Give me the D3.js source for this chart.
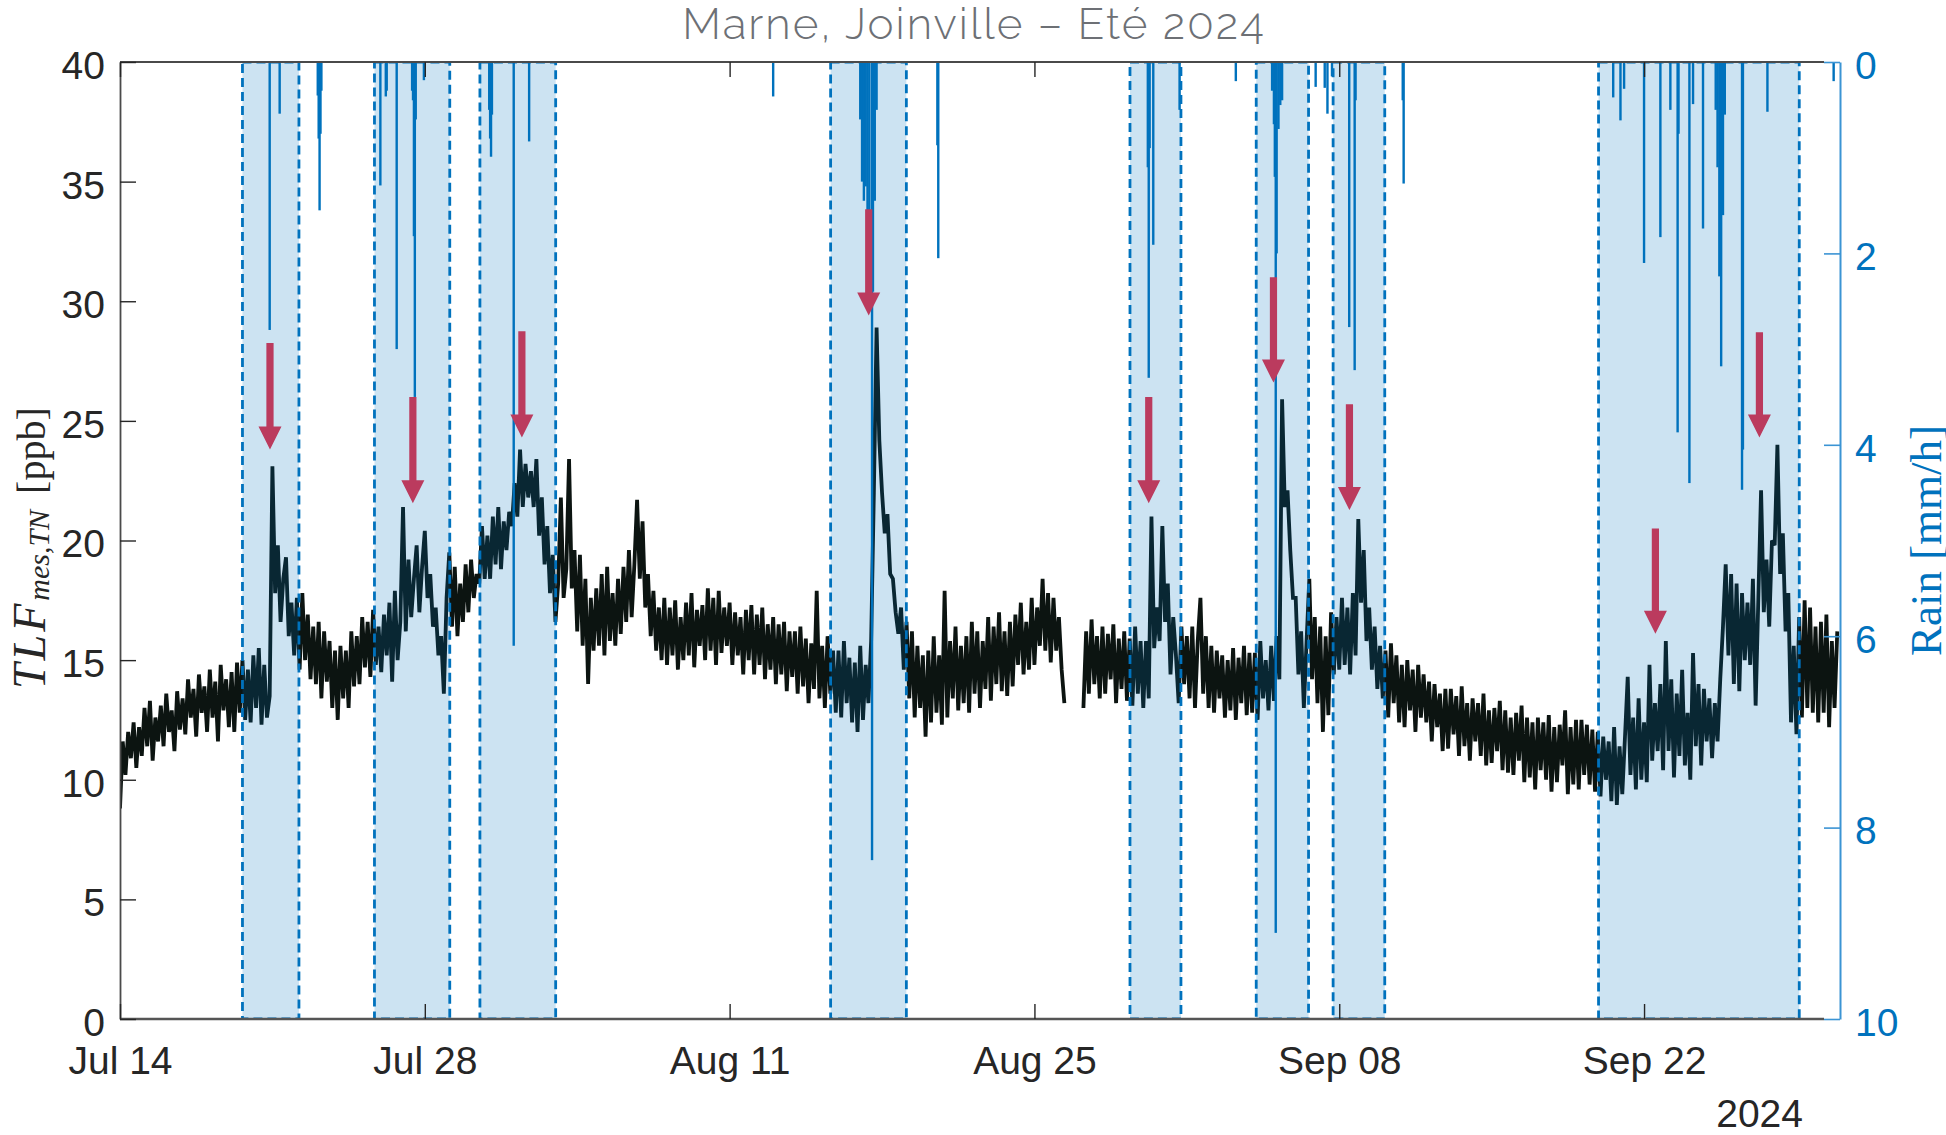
<!DOCTYPE html>
<html>
<head>
<meta charset="utf-8">
<script src="https://cdn.jsdelivr.net/npm/d3@7"></script>
<style>
  html, body { margin: 0; padding: 0; background: #ffffff; }
  svg { display: block; }
</style>
</head>
<body>
<svg id="chart" width="1946" height="1135"></svg>
<script>
// ---------- data ----------
const chartTitle = "Marne, Joinville – Eté 2024";
const yearLabel = "2024";
const xDomain = ["2024-07-14", "2024-10-01"];
const xTickDates = ["2024-07-14", "2024-07-28", "2024-08-11", "2024-08-25", "2024-09-08", "2024-09-22"];
const leftTicks = [0, 5, 10, 15, 20, 25, 30, 35, 40];
const rightTicks = [0, 2, 4, 6, 8, 10];

// TLF (ppb), one value every 3 hours from the start time; null = no measurement
const tlfStart = "2024-07-14T00:00";
const tlfStepHours = 3;
const tlfValues = [
  8.8, 11.6, 10.2, 12.0, 10.9, 12.4, 10.5, 12.2,   // Jul 14
  11.0, 13.0, 11.4, 13.3, 10.8, 12.6, 11.6, 13.1,  // Jul 15
  11.4, 13.6, 12.0, 12.9, 11.2, 13.7, 12.1, 13.4,  // Jul 16
  11.9, 14.2, 12.6, 13.8, 11.8, 14.4, 12.8, 13.9,  // Jul 17
  12.0, 14.6, 12.6, 14.1, 11.6, 14.8, 12.9, 14.2,  // Jul 18
  12.2, 14.5, 12.0, 14.9, 12.8, 15.0, 12.5, 14.6,  // Jul 19
  12.4, 15.2, 13.0, 15.5, 12.3, 14.8, 12.6, 13.5,  // Jul 20
  23.1, 17.8, 19.8, 16.6, 18.4, 19.3, 16.0, 17.4,  // Jul 21
  15.2, 17.6, 14.6, 17.8, 15.0, 16.9, 14.2, 16.4,  // Jul 22
  14.0, 16.6, 13.4, 16.2, 14.1, 15.8, 13.0, 15.4,  // Jul 23
  12.5, 15.6, 13.4, 15.4, 13.0, 16.2, 13.9, 16.0,  // Jul 24
  14.0, 16.8, 14.7, 16.6, 14.3, 17.1, 14.8, 16.4,  // Jul 25
  14.5, 16.9, 15.2, 17.4, 14.1, 17.9, 15.0, 16.6,  // Jul 26
  21.4, 16.2, 19.2, 16.8, 18.4, 19.8, 17.0, 18.9,  // Jul 27
  20.4, 17.6, 18.6, 16.4, 17.2, 15.2, 16.0, 13.6,  // Jul 28
  17.6, 19.5, 16.4, 18.9, 16.0, 18.2, 16.6, 19.0,  // Jul 29
  17.0, 19.2, 17.6, 18.6, 18.2, 20.6, 18.4, 20.2,  // Jul 30
  18.4, 21.0, 19.0, 21.4, 18.8, 20.8, 19.6, 21.2,  // Jul 31
  20.6, 22.4, 21.0, 23.8, 21.4, 23.2, 21.8, 22.9,  // Aug 1
  21.4, 23.4, 20.2, 21.8, 19.0, 20.6, 17.8, 19.4,  // Aug 2
  16.6, 18.2, 21.8, 17.6, 18.8, 23.4, 18.0, 19.6,  // Aug 3
  16.2, 19.4, 15.6, 18.4, 14.0, 17.6, 15.4, 18.0,  // Aug 4
  15.6, 18.6, 15.2, 18.9, 15.8, 17.8, 15.6, 18.4,  // Aug 5
  16.1, 18.9, 16.6, 19.6, 16.8, 19.0, 21.7, 18.4,  // Aug 6
  20.8, 17.2, 18.6, 16.0, 17.9, 15.4, 17.2, 15.0,  // Aug 7
  17.6, 14.8, 17.2, 15.2, 17.5, 14.6, 16.8, 15.0,  // Aug 8
  17.4, 15.2, 17.8, 14.7, 17.1, 15.6, 17.3, 15.0,  // Aug 9
  18.0, 15.4, 17.6, 14.8, 17.9, 15.3, 17.2, 15.6,  // Aug 10
  17.4, 14.8, 17.0, 15.2, 16.8, 14.4, 17.1, 15.0,  // Aug 11
  17.3, 14.4, 16.9, 14.8, 17.2, 14.2, 16.5, 14.6,  // Aug 12
  16.8, 14.0, 16.5, 14.4, 16.6, 13.7, 16.2, 14.3,  // Aug 13
  16.2, 13.6, 16.4, 13.9, 15.9, 13.2, 15.7, 13.8,  // Aug 14
  17.9, 13.4, 15.6, 13.0, 16.0, 13.6, 15.4, 12.8,  // Aug 15
  15.4, 12.6, 15.8, 13.2, 15.1, 12.4, 14.9, 12.0,  // Aug 16
  15.6, 12.5, 14.8, 13.2, 15.8, 22.0, 28.9, 24.2,  // Aug 17
  22.0, 20.3, 21.1, 18.6, 18.4, 17.0, 16.1, 17.2,  // Aug 18
  14.6, 16.6, 13.4, 16.2, 12.6, 15.6, 13.0, 15.2,  // Aug 19
  11.8, 15.4, 12.4, 16.0, 12.8, 15.2, 12.3, 17.9,  // Aug 20
  12.6, 15.8, 13.4, 16.4, 12.9, 15.6, 13.2, 16.0,  // Aug 21
  12.8, 16.6, 13.6, 16.2, 13.0, 15.8, 13.8, 16.8,  // Aug 22
  13.3, 16.4, 14.0, 17.0, 13.7, 16.2, 13.5, 16.6,  // Aug 23
  13.9, 16.9, 14.8, 17.4, 14.4, 16.6, 14.6, 17.6,  // Aug 24
  14.8, 17.2, 15.6, 18.4, 15.4, 17.8, 14.9, 17.6,  // Aug 25
  15.4, 16.8, 14.6, 13.2, null, null, null, null,  // Aug 26
  null, null, 13.0, 16.2, 13.6, 16.7, 14.0, 16.0,  // Aug 27
  13.4, 16.4, 13.6, 16.1, 14.2, 16.5, 13.2, 15.9,  // Aug 28
  13.8, 16.2, 13.3, 15.9, 13.1, 16.4, 13.6, 15.8,  // Aug 29
  13.0, 15.8, 13.4, 21.0, 15.5, 17.2, 15.8, 20.6,  // Aug 30
  16.6, 18.2, 14.4, 16.8, 15.2, 13.2, 16.4, 14.0,  // Aug 31
  16.0, 13.4, 16.4, 13.0, 15.8, 17.6, 13.6, 16.0,  // Sep 1
  13.0, 15.6, 12.8, 15.4, 13.4, 15.2, 12.6, 15.0,  // Sep 2
  12.9, 15.5, 12.5, 15.1, 13.2, 15.6, 12.7, 15.3,  // Sep 3
  12.8, 15.3, 12.5, 15.8, 13.4, 15.0, 12.9, 15.6,  // Sep 4
  13.3, 16.0, 14.2, 25.9, 21.4, 22.1, 19.6, 17.6,  // Sep 5
  17.6, 14.4, 16.2, 13.0, 15.8, 18.4, 14.2, 16.8,  // Sep 6
  13.2, 16.4, 12.0, 16.0, 12.7, 17.0, 14.4, 16.8,  // Sep 7
  14.6, 17.6, 14.8, 17.2, 14.4, 17.8, 15.2, 20.9,  // Sep 8
  17.4, 19.6, 15.8, 17.2, 14.6, 16.4, 13.8, 15.6,  // Sep 9
  13.4, 15.4, 12.6, 15.7, 13.2, 15.2, 12.4, 14.8,  // Sep 10
  12.2, 15.0, 12.9, 14.6, 12.0, 14.8, 12.6, 14.4,  // Sep 11
  12.4, 14.1, 11.6, 14.0, 12.2, 13.6, 11.2, 13.8,  // Sep 12
  11.3, 13.8, 11.9, 13.5, 11.0, 13.9, 11.4, 13.2,  // Sep 13
  10.8, 13.4, 11.6, 13.2, 11.0, 13.6, 10.6, 12.9,  // Sep 14
  10.7, 13.0, 11.2, 13.3, 10.4, 12.9, 10.3, 12.6,  // Sep 15
  10.2, 12.8, 10.8, 13.1, 9.9, 12.6, 10.1, 12.4,   // Sep 16
  9.6, 12.6, 10.4, 12.4, 10.0, 12.7, 9.5, 12.2,    // Sep 17
  9.9, 12.3, 10.6, 12.9, 9.4, 12.2, 9.8, 12.5,     // Sep 18
  9.6, 12.5, 10.2, 12.3, 9.8, 12.1, 9.5, 12.0,     // Sep 19
  9.3, 11.8, 10.0, 11.6, 9.1, 12.2, 8.95, 11.4,    // Sep 20
  9.4, 11.8, 14.3, 10.2, 12.6, 9.6, 13.4, 10.0,    // Sep 21
  12.4, 9.9, 14.8, 10.8, 13.2, 11.2, 14.0, 10.4,   // Sep 22
  15.8, 11.2, 14.2, 10.1, 13.6, 11.0, 14.6, 10.6,  // Sep 23
  12.8, 10.0, 15.3, 11.4, 14.0, 10.6, 13.8, 11.6,  // Sep 24
  13.4, 10.9, 13.2, 11.6, 14.2, 16.4, 19.0, 15.2,  // Sep 25
  18.6, 14.0, 18.2, 13.7, 17.8, 15.0, 17.4, 14.8,  // Sep 26
  18.4, 13.1, 17.6, 22.1, 17.0, 19.2, 16.4, 20.0,  // Sep 27
  19.8, 24.0, 18.6, 20.3, 16.2, 17.8, 12.4, 15.6,  // Sep 28
  11.9, 16.8, 12.6, 17.5, 13.0, 17.2, 12.8, 16.4,  // Sep 29
  12.4, 16.6, 12.8, 16.9, 12.2, 15.8, 13.0, 16.2   // Sep 30
];

// Hourly rain intensity (mm/h), non-zero hours only
const rainSeries = [
  ["2024-07-20T21:00", 2.8], ["2024-07-21T08:00", 0.54],
  ["2024-07-23T02:00", 0.35], ["2024-07-23T03:00", 0.8], ["2024-07-23T04:00", 1.55],
  ["2024-07-23T05:00", 0.75], ["2024-07-23T06:00", 0.3],
  ["2024-07-25T23:00", 1.29], ["2024-07-26T05:00", 0.36], ["2024-07-26T06:00", 0.3],
  ["2024-07-26T17:00", 3.0], ["2024-07-27T10:00", 0.3], ["2024-07-27T11:00", 0.4],
  ["2024-07-27T12:00", 1.82], ["2024-07-27T13:00", 3.5], ["2024-07-27T14:00", 0.6],
  ["2024-07-27T23:00", 0.19],
  ["2024-07-30T23:00", 0.5], ["2024-07-31T00:00", 0.8], ["2024-07-31T01:00", 0.99],
  ["2024-07-31T02:00", 0.55], ["2024-08-01T02:00", 6.1], ["2024-08-01T19:00", 0.83],
  ["2024-08-13T00:00", 0.36],
  ["2024-08-17T00:00", 0.6], ["2024-08-17T02:00", 1.25], ["2024-08-17T04:00", 1.45],
  ["2024-08-17T06:00", 1.3], ["2024-08-17T08:00", 2.2], ["2024-08-17T10:00", 2.3],
  ["2024-08-17T13:00", 8.34], ["2024-08-17T14:00", 2.4], ["2024-08-17T16:00", 1.45],
  ["2024-08-17T18:00", 0.5],
  ["2024-08-20T13:00", 0.87], ["2024-08-20T14:00", 2.05],
  ["2024-08-30T05:00", 1.1], ["2024-08-30T06:00", 3.3], ["2024-08-30T07:00", 0.9],
  ["2024-08-30T11:00", 1.91], ["2024-08-31T16:00", 0.5],
  ["2024-09-03T06:00", 0.2],
  ["2024-09-04T22:00", 0.3], ["2024-09-05T00:00", 0.65], ["2024-09-05T01:00", 1.2],
  ["2024-09-05T02:00", 9.1], ["2024-09-05T03:00", 2.0], ["2024-09-05T05:00", 0.7],
  ["2024-09-05T07:00", 0.45], ["2024-09-05T09:00", 0.4],
  ["2024-09-06T22:00", 0.26], ["2024-09-07T08:00", 0.27], ["2024-09-07T11:00", 0.54],
  ["2024-09-07T16:00", 0.15],
  ["2024-09-08T11:00", 2.77], ["2024-09-08T17:00", 3.22], ["2024-09-08T18:00", 0.4],
  ["2024-09-10T22:00", 0.4], ["2024-09-10T23:00", 1.27],
  ["2024-09-20T14:00", 0.37], ["2024-09-20T22:00", 0.61], ["2024-09-21T02:00", 0.28],
  ["2024-09-22T00:00", 2.1], ["2024-09-22T18:00", 1.83], ["2024-09-23T05:00", 0.5],
  ["2024-09-23T13:00", 3.87], ["2024-09-23T14:00", 0.75], ["2024-09-24T02:00", 4.4],
  ["2024-09-24T06:00", 0.44], ["2024-09-24T17:00", 1.74],
  ["2024-09-25T07:00", 0.5], ["2024-09-25T09:00", 1.1], ["2024-09-25T11:00", 2.24],
  ["2024-09-25T13:00", 3.18], ["2024-09-25T15:00", 1.6], ["2024-09-25T17:00", 0.55],
  ["2024-09-26T12:00", 4.47], ["2024-09-26T13:00", 4.05],
  ["2024-09-27T16:00", 0.52], ["2024-09-30T17:00", 0.2]
];

// Rain events (shaded windows): start, end
const rainEvents = [
  ["2024-07-19T15:00", "2024-07-22T05:15"],
  ["2024-07-25T16:30", "2024-07-29T03:30"],
  ["2024-07-30T12:45", "2024-08-03T00:15"],
  ["2024-08-15T15:20", "2024-08-19T02:50"],
  ["2024-08-29T09:20", "2024-08-31T17:30"],
  ["2024-09-04T04:30", "2024-09-06T14:10"],
  ["2024-09-07T17:15", "2024-09-10T02:10"],
  ["2024-09-19T21:50", "2024-09-29T03:05"]
];

// TLF responses to rain: time, arrow tail (ppb), arrow tip (ppb)
const responseArrows = [
  ["2024-07-20T21:20", 28.25, 23.8],
  ["2024-07-27T10:50", 26.0, 21.56],
  ["2024-08-01T11:00", 28.75, 24.3],
  ["2024-08-17T09:20", 33.85, 29.4],
  ["2024-08-30T06:00", 26.0, 21.56],
  ["2024-09-04T23:30", 31.0, 26.6],
  ["2024-09-08T11:15", 25.7, 21.27],
  ["2024-09-22T12:30", 20.5, 16.1],
  ["2024-09-27T07:10", 28.7, 24.3]
];

// ---------- layout ----------
const plot = { left: 120, right: 1840, top: 62, bottom: 1019 };
const C = {
  text: "#262626",
  frame: "#4a4a4a",
  tlf: "#0c1411",
  blue: "#0072BD",
  blueAxis: "#3b94d4",
  arrow: "#bb3b5e",
  title: "#6d7075"
};
const tickFont = "'Liberation Sans', Arial, Helvetica, sans-serif";
const serifFont = "'Liberation Serif', 'Times New Roman', serif";

const parseT = d3.utcParse("%Y-%m-%dT%H:%M");
const parseD = d3.utcParse("%Y-%m-%d");

const x = d3.scaleUtc().domain(xDomain.map(parseD)).range([plot.left, plot.right]);
const yL = d3.scaleLinear().domain([0, 40]).range([plot.bottom, plot.top]);
const yR = d3.scaleLinear().domain([0, 10]).range([plot.top, plot.bottom]);

const svg = d3.select("#chart");

svg.append("defs").append("clipPath").attr("id", "plotClip")
  .append("rect")
  .attr("x", plot.left).attr("y", plot.top)
  .attr("width", plot.right - plot.left).attr("height", plot.bottom - plot.top);

// ---------- TLF series ----------
const t0 = parseT(tlfStart).getTime();
const tlf = tlfValues.map((v, i) => ({ t: new Date(t0 + i * tlfStepHours * 3600e3), v }));

const gData = svg.append("g").attr("clip-path", "url(#plotClip)");

gData.append("path")
  .datum(tlf)
  .attr("fill", "none")
  .attr("stroke", C.tlf)
  .attr("stroke-width", 3.8)
  .attr("stroke-linejoin", "miter")
  .attr("stroke-miterlimit", 2)
  .attr("d", d3.line().defined(d => d.v !== null).x(d => x(d.t)).y(d => yL(d.v)));

// ---------- rain, hanging from the top (right axis, reversed) ----------
gData.append("g").selectAll("rect")
  .data(rainSeries)
  .join("rect")
  .attr("x", d => x(parseT(d[0])) - 1.2)
  .attr("y", yR(0))
  .attr("width", 2.4)
  .attr("height", d => yR(d[1]) - yR(0))
  .attr("fill", C.blue);

// ---------- shaded rain events ----------
gData.append("g").selectAll("rect")
  .data(rainEvents)
  .join("rect")
  .attr("x", d => x(parseT(d[0])))
  .attr("y", yL(40))
  .attr("width", d => x(parseT(d[1])) - x(parseT(d[0])))
  .attr("height", yL(0) - yL(40))
  .attr("fill", C.blue)
  .attr("fill-opacity", 0.2)
  .attr("stroke", C.blue)
  .attr("stroke-width", 2.8)
  .attr("stroke-dasharray", "9 5");

// ---------- frame ----------
const frame = svg.append("g");
const frameRight = plot.right - 16;
frame.append("line")
  .attr("x1", plot.left).attr("x2", frameRight).attr("y1", plot.top).attr("y2", plot.top)
  .attr("stroke", C.frame).attr("stroke-width", 1.8);
frame.append("line")
  .attr("x1", plot.left).attr("x2", frameRight).attr("y1", plot.bottom).attr("y2", plot.bottom)
  .attr("stroke", "#555555").attr("stroke-width", 2.4);

// ---------- left axis ----------
const axL = svg.append("g")
  .attr("transform", `translate(${plot.left},0)`)
  .call(d3.axisLeft(yL).tickValues(leftTicks).tickSize(-16).tickSizeOuter(0).tickPadding(15));
axL.select(".domain").attr("stroke", C.frame).attr("stroke-width", 1.8);
axL.selectAll(".tick line").attr("stroke", C.text).attr("stroke-width", 1.4);
axL.selectAll(".tick text")
  .attr("dy", "0.42em")
  .attr("fill", C.text)
  .style("font-family", tickFont)
  .style("font-size", "39px");

// ---------- bottom axis ----------
const axB = svg.append("g")
  .attr("transform", `translate(0,${plot.bottom})`)
  .call(d3.axisBottom(x).tickValues(xTickDates.map(parseD))
    .tickFormat(d3.utcFormat("%b %d")).tickSize(-15).tickSizeOuter(0).tickPadding(27));
axB.select(".domain").remove();
axB.selectAll(".tick line").attr("stroke", C.text).attr("stroke-width", 1.4);
axB.selectAll(".tick text")
  .attr("fill", C.text)
  .style("font-family", tickFont)
  .style("font-size", "39px");

// mirrored ticks along the top edge
const axT = svg.append("g")
  .attr("transform", `translate(0,${plot.top})`)
  .call(d3.axisTop(x).tickValues(xTickDates.map(parseD)).tickFormat("").tickSize(-15).tickSizeOuter(0));
axT.select(".domain").remove();
axT.selectAll(".tick line").attr("stroke", C.text).attr("stroke-width", 1.4);

svg.append("text")
  .attr("x", 1803).attr("y", 1127)
  .attr("text-anchor", "end")
  .attr("fill", C.text)
  .style("font-family", tickFont)
  .style("font-size", "39px")
  .text(yearLabel);

// ---------- right axis (rain) ----------
const axR = svg.append("g")
  .attr("transform", `translate(${plot.right},0)`)
  .call(d3.axisRight(yR).tickValues(rightTicks).tickSize(-16).tickSizeOuter(0).tickPadding(15));
axR.select(".domain").attr("stroke", C.blueAxis).attr("stroke-width", 2);
axR.selectAll(".tick line").attr("stroke", C.blueAxis).attr("stroke-width", 1.6);
axR.selectAll(".tick text")
  .attr("dy", "0.42em")
  .attr("fill", C.blue)
  .style("font-family", tickFont)
  .style("font-size", "39px");

// ---------- arrows marking the TLF responses ----------
const shaftHalf = 3.6, headHalf = 11.5, headLen = 23;
svg.append("g").selectAll("path")
  .data(responseArrows)
  .join("path")
  .attr("fill", C.arrow)
  .attr("d", d => {
    const cx = x(parseT(d[0]));
    const yTop = yL(d[1]);
    const yTip = yL(d[2]);
    const yBase = yTip - headLen;
    return `M${cx - shaftHalf},${yTop}L${cx + shaftHalf},${yTop}L${cx + shaftHalf},${yBase}` +
           `L${cx + headHalf},${yBase}L${cx},${yTip}L${cx - headHalf},${yBase}L${cx - shaftHalf},${yBase}Z`;
  });

// ---------- axis titles ----------
const yLabel = svg.append("text")
  .attr("transform", `translate(45,${plot.bottom - 330}) rotate(-90)`)
  .attr("fill", C.text)
  .style("font-family", serifFont);
yLabel.append("tspan").style("font-style", "italic").style("font-size", "46px")
  .style("letter-spacing", "3px").text("TLF");
yLabel.append("tspan").style("font-style", "italic").style("font-size", "30px")
  .attr("dy", 4).text("mes,TN");
yLabel.append("tspan").style("font-size", "40px")
  .attr("dy", -4).attr("dx", 16).text("[ppb]");

svg.append("text")
  .attr("transform", `translate(1941,${(plot.top + plot.bottom) / 2}) rotate(-90)`)
  .attr("text-anchor", "middle")
  .attr("fill", C.blue)
  .style("font-family", serifFont)
  .style("font-size", "45px")
  .text("Rain [mm/h]");

// ---------- title ----------
svg.append("text")
  .attr("x", 974).attr("y", 39)
  .attr("text-anchor", "middle")
  .attr("fill", C.title)
  .style("font-family", "Raleway, Lato, 'Open Sans', sans-serif")
  .style("font-weight", 300)
  .style("font-size", "44px")
  .style("letter-spacing", "2px")
  .text(chartTitle);
</script>
</body>
</html>
